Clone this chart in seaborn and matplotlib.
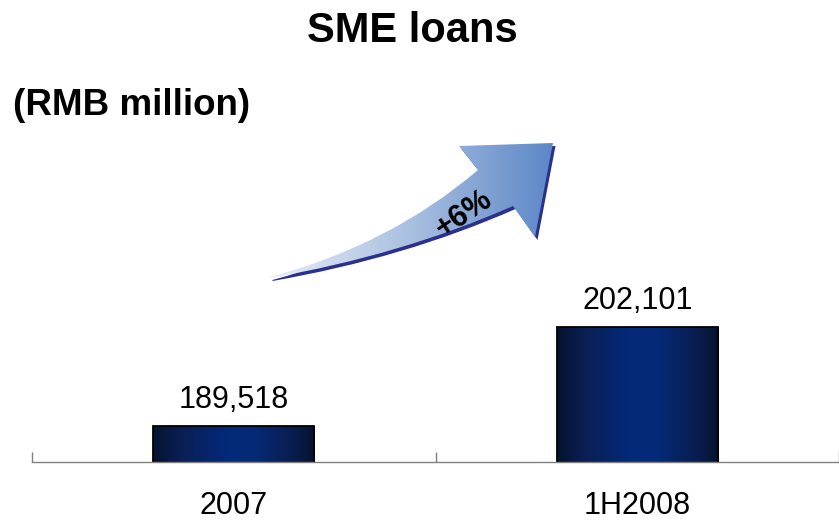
import numpy as np
import pandas as pd
import matplotlib
matplotlib.use("Agg")
import matplotlib.pyplot as plt
import seaborn as sns
from matplotlib.path import Path
from matplotlib.patches import PathPatch
from matplotlib.colors import LinearSegmentedColormap

# Data
periods = ["2007", "1H2008"]
loans = [189518, 202101]
value_labels = ["189,518", "202,101"]
growth_label = "+6%"
title = "SME loans"
unit_label = "(RMB million)"

sns.set_theme(style="white")
plt.rcParams["font.family"] = ["Liberation Sans", "DejaVu Sans"]
plt.rcParams["text.color"] = "black"

W, H = 839, 520
fig = plt.figure(figsize=(W / 100, H / 100), dpi=100)
fig.patch.set_facecolor("white")
ax = fig.add_axes([32 / W, 58 / H, 807 / W, 404 / H])

df = pd.DataFrame({"period": periods, "loans": loans})
sns.barplot(data=df, x="period", y="loans", ax=ax, width=0.4,
            color="#0b2560", edgecolor="black", linewidth=1.3)

# value axis starts near 185,000 (truncated scale)
y_floor = 185000
per_px = 127.1
ax.set_ylim(y_floor, y_floor + 404 * per_px)
ax.set_xlim(-0.5, 1.5)

# cylinder-like shading on each bar
bar_cmap = LinearSegmentedColormap.from_list(
    "bar", [(0.0, "#05132f"), (0.18, "#0a1f55"), (0.45, "#03297a"),
            (0.62, "#042a78"), (0.85, "#0a1e52"), (1.0, "#05132f")])
grad = np.linspace(0, 1, 256)[None, :]
for p in ax.patches:
    x, yb = p.get_x(), p.get_y()
    w, h = p.get_width(), p.get_height()
    ax.imshow(grad, cmap=bar_cmap, extent=(x, x + w, yb, yb + h),
              aspect="auto", zorder=p.get_zorder() + 0.1, interpolation="bicubic")
    p.set_facecolor("none")
    p.set_zorder(p.get_zorder() + 0.2)
ax.set_ylim(y_floor, y_floor + 404 * per_px)
ax.set_xlim(-0.5, 1.5)

ax.bar_label(ax.containers[0], labels=value_labels, padding=8,
             fontsize=22, color="black")

# axis styling
ax.set_xlabel("")
ax.set_ylabel("")
ax.set_yticks([])
ax.set_xticks([0, 1])
ax.set_xticklabels(periods)
ax.set_xticks([-0.5, 0.5, 1.5], minor=True)
ax.tick_params(axis="x", which="major", bottom=True, length=0, pad=21,
               labelsize=22, labelcolor="black")
ax.tick_params(axis="x", which="minor", bottom=True, direction="in",
               length=7, width=1, color="#808080")
for s in ["left", "top", "right"]:
    ax.spines[s].set_visible(False)
ax.spines["bottom"].set_color("#808080")
ax.spines["bottom"].set_linewidth(1.0)

fig.text(412 / W, 1 - 31 / H, title, ha="center", va="center",
         fontsize=30, fontweight="bold", color="black")
fig.text(13 / W, 1 - 106 / H, unit_label, ha="left", va="center",
         fontsize=26.5, fontweight="bold", color="black")

# growth arrow, drawn in pixel space on an overlay
ov = fig.add_axes([0, 0, 1, 1], zorder=5)
ov.set_xlim(0, W)
ov.set_ylim(H, 0)
ov.axis("off")
ov.patch.set_alpha(0)

verts = [(270, 277), (390, 245), (478, 170),
         (459, 146), (553, 143), (535, 237), (513, 206),
         (402, 255), (270, 278), (270, 278)]
codes = [Path.MOVETO, Path.CURVE3, Path.CURVE3,
         Path.LINETO, Path.LINETO, Path.LINETO, Path.LINETO,
         Path.CURVE3, Path.CURVE3, Path.CLOSEPOLY]
arrow_path = Path(verts, codes)
shadow_path = Path(np.array(verts) + np.array([2.5, 3]), codes)

ov.add_patch(PathPatch(shadow_path, facecolor="#2b2f8f", edgecolor="none", zorder=1))
body = PathPatch(arrow_path, facecolor="none", edgecolor="none", zorder=2)
ov.add_patch(body)
arrow_cmap = LinearSegmentedColormap.from_list(
    "arrow", ["#e8eef6", "#a9bfe0", "#5a86c6"])
img = ov.imshow(grad, cmap=arrow_cmap, extent=(268, 556, 282, 140),
                aspect="auto", interpolation="bicubic", zorder=3)
img.set_clip_path(body)
ov.set_xlim(0, W)
ov.set_ylim(H, 0)

ov.text(464, 214, growth_label, rotation=34, ha="center", va="center",
        rotation_mode="anchor", fontsize=22, fontweight="bold",
        color="black", zorder=4)

fig.savefig("out.png", dpi=100)
